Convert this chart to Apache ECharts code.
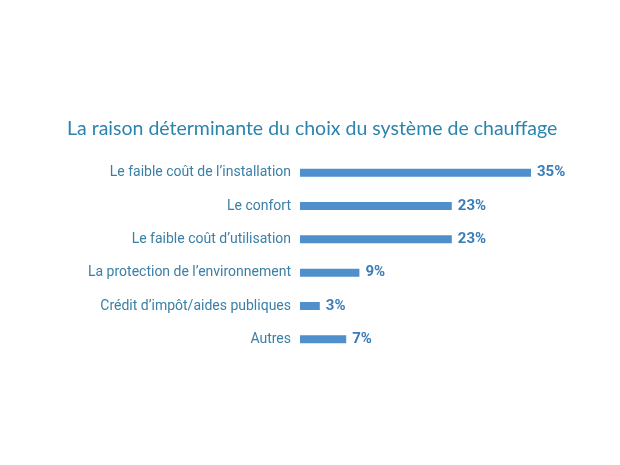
<!DOCTYPE html>
<html><head><meta charset="utf-8">
<script src="https://cdn.jsdelivr.net/npm/echarts@6/dist/echarts.min.js"></script>
<style>html,body{margin:0;padding:0;background:#fff}#c{width:620px;height:465px}</style>
</head><body><div id="c"></div>
<script>
const titleText = "La raison déterminante du choix du système de chauffage";
const categories = ["Le faible coût de l’installation","Le confort","Le faible coût d’utilisation","La protection de l’environnement","Crédit d’impôt/aides publiques","Autres"];
const values = [35, 23, 23, 9, 3, 7];
const chart = echarts.init(document.getElementById('c'));
const narrow = "'Liberation Sans Narrow', 'Arial Narrow', 'Roboto', sans-serif";
chart.setOption({
  animation: false,
  backgroundColor: '#ffffff',
  title: {
    text: titleText, left: 62, top: 114,
    textStyle: {fontFamily: "Lato, 'Open Sans', sans-serif", fontWeight: 'normal', fontSize: 19.5, color: '#2a84ad'}
  },
  grid: {left: 300, right: 56, top: 156, bottom: 109},
  xAxis: {type: 'value', min: 0, max: 40, show: false},
  yAxis: {
    type: 'category', data: categories, inverse: true,
    axisLine: {show: false}, axisTick: {show: false},
    axisLabel: {margin: 9, fontFamily: narrow, fontSize: 14, color: '#3a7fa6'}
  },
  series: [{
    type: 'bar', data: values, barWidth: 8,
    itemStyle: {color: '#4f90cc'},
    label: {show: true, position: 'right', distance: 6, formatter: '{c}%', fontFamily: narrow, fontWeight: 'bold', fontSize: 15, color: '#3b7db8'}
  }]
});
</script></body></html>
